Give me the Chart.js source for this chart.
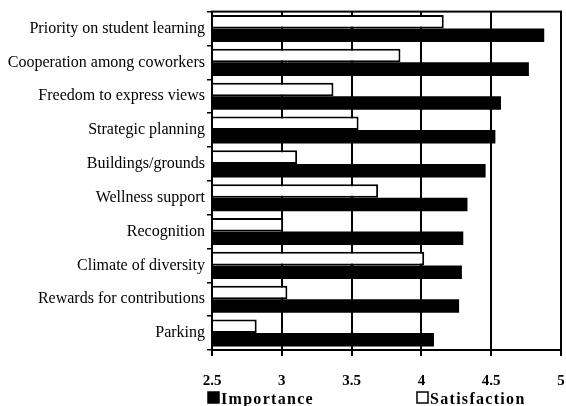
<!DOCTYPE html>
<html lang="en">
<head>
  <meta charset="UTF-8">
  <title>Importance vs Satisfaction</title>
  <script src="https://cdn.jsdelivr.net/npm/chart.js@4.4.1/dist/chart.umd.min.js"></script>
  <style>
    body { margin: 0; background: #fff; }
    #wrap { width: 566px; height: 406px; }
  </style>
</head>
<body>
  <div id="wrap"><canvas id="chart"></canvas></div>
  <script>
    const categories = ['Priority on student learning', 'Cooperation among coworkers', 'Freedom to express views',
      'Strategic planning', 'Buildings/grounds', 'Wellness support', 'Recognition',
      'Climate of diversity', 'Rewards for contributions', 'Parking'];
    const importance = [4.88, 4.77, 4.57, 4.53, 4.46, 4.33, 4.30, 4.29, 4.27, 4.09];
    const satisfaction = [4.16, 3.85, 3.37, 3.55, 3.11, 3.69, 3.01, 4.02, 3.04, 2.82];
    const xTicks = [2.5, 3, 3.5, 4, 4.5, 5];

    const serif = "'Liberation Serif', 'Times New Roman', serif";

    // frame round the plot area (top + right edge)
    const frame = {
      id: 'frame',
      afterDatasetsDraw(chart) {
        const a = chart.chartArea, c = chart.ctx;
        c.save();
        c.strokeStyle = '#000';
        c.lineWidth = 2;
        c.strokeRect(a.left, a.top, a.right - a.left, a.bottom - a.top);
        c.restore();
      }
    };

    // legend drawn by hand so it can sit where the original had it
    const legendSpots = { 'Importance': 208, 'Satisfaction': 417 };
    const handLegend = {
      id: 'handLegend',
      afterDraw(chart) {
        const c = chart.ctx;
        c.save();
        c.font = 'bold 16px ' + serif;
        c.letterSpacing = '1.3px';
        c.textBaseline = 'alphabetic';
        chart.data.datasets.forEach(ds => {
          const x = legendSpots[ds.label];
          c.fillStyle = ds.backgroundColor;
          c.fillRect(x, 392, 11, 11);
          c.strokeStyle = '#000';
          c.lineWidth = 1.5;
          c.strokeRect(x, 392, 11, 11);
          c.fillStyle = '#000';
          c.fillText(ds.label, x + 13, 404);
        });
        c.restore();
      }
    };

    const ctx = document.getElementById('chart').getContext('2d');
    const myChart = new Chart(ctx, {
      type: 'bar',
      data: {
        labels: categories,
        datasets: [{
          label: 'Satisfaction',
          data: satisfaction,
          backgroundColor: '#fff',
          borderColor: '#000',
          borderWidth: 2,
          categoryPercentage: 0.8,
          barPercentage: 1.0
        }, {
          label: 'Importance',
          data: importance,
          backgroundColor: '#000',
          borderWidth: 0,
          categoryPercentage: 0.8,
          barPercentage: 1.0
        }]
      },
      options: {
        indexAxis: 'y',
        responsive: true,
        maintainAspectRatio: false,
        animation: false,
        layout: { padding: { top: 10, right: 5, left: 0, bottom: 0 } },
        plugins: {
          legend: { display: false },
          tooltip: { enabled: false }
        },
        scales: {
          x: {
            min: 2.5,
            max: 5,
            afterBuildTicks: s => { s.ticks = xTicks.map(v => ({ value: v })); },
            afterFit: s => { s.paddingRight = 0; s.paddingLeft = 0; },
            grid: { color: '#000', lineWidth: 2, tickLength: 6 },
            border: { color: '#000', width: 2 },
            ticks: {
              color: '#000',
              padding: 16,
              callback: v => String(v),
              font: { family: serif, size: 15, weight: 'bold' }
            }
          },
          y: {
            afterFit: s => { s.width = 212; },
            grid: { drawOnChartArea: false, color: '#000', lineWidth: 1.5, tickLength: 5 },
            border: { color: '#000', width: 2 },
            ticks: {
              color: '#000',
              padding: 2,
              font: { family: serif, size: 16 }
            }
          }
        }
      },
      plugins: [frame, handLegend]
    });
  </script>
</body>
</html>
